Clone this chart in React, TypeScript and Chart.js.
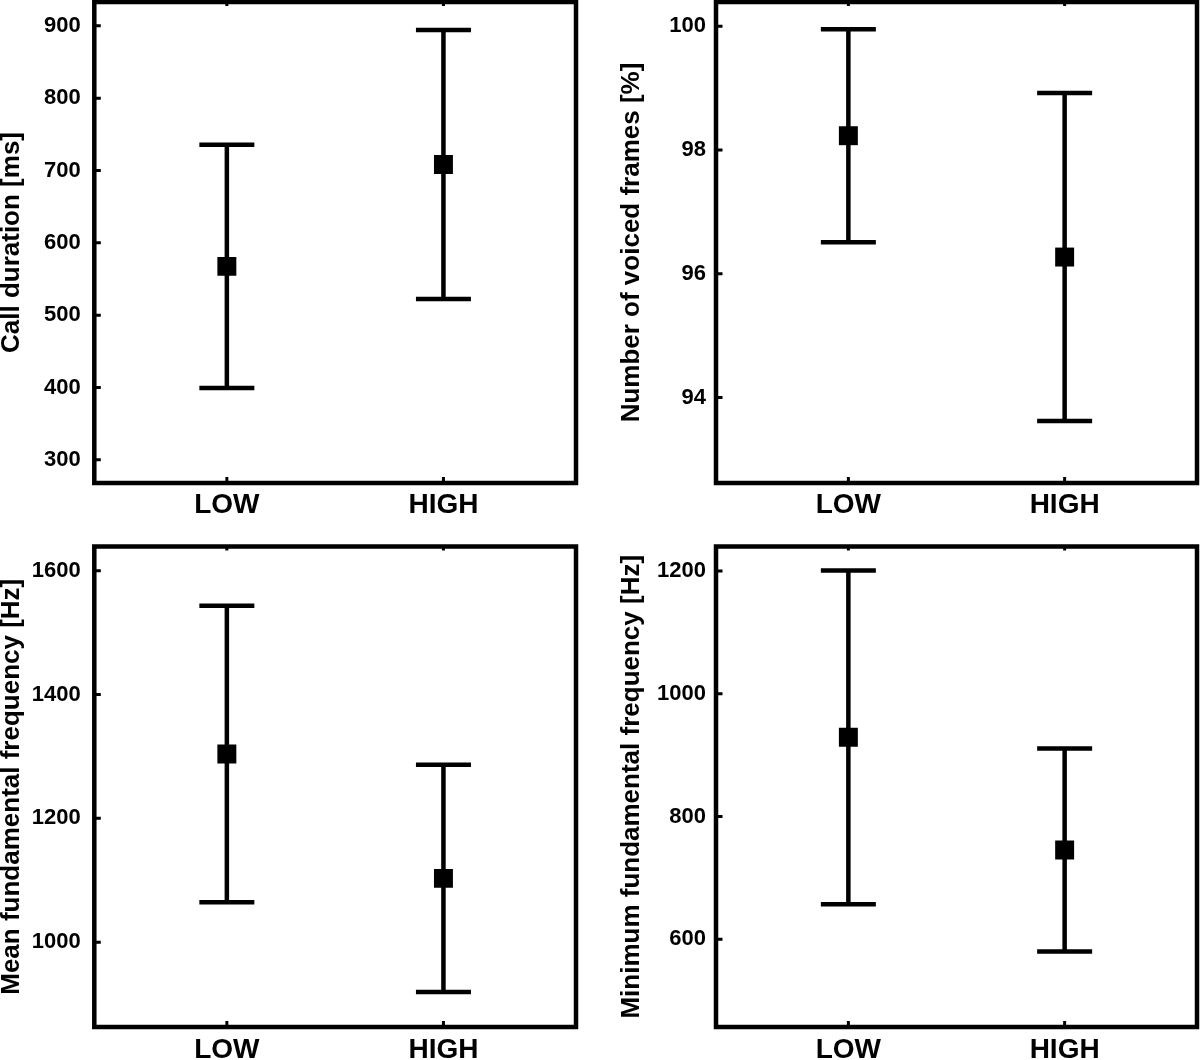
import React, { useEffect, useRef } from 'react';
import { Chart, registerables } from 'chart.js';

Chart.register(...registerables);

// ---- data ----
const categories = ['LOW', 'HIGH'];
const categoryPositions = [1, 2];
const xRange = [0.388, 2.612];

const callDurationMean = [567.5, 708.4];
const callDurationSD = [168, 186];
const callDurationTicks = [300, 400, 500, 600, 700, 800, 900];
const callDurationRange = [268, 933];

const voicedMean = [98.23, 96.27];
const voicedSD = [1.72, 2.65];
const voicedTicks = [94, 96, 98, 100];
const voicedRange = [92.62, 100.39];

const meanF0Mean = [1304, 1103];
const meanF0SD = [239.5, 183.5];
const meanF0Ticks = [1000, 1200, 1400, 1600];
const meanF0Range = [863, 1639];

const minF0Mean = [929, 745.5];
const minF0SD = [272, 165.5];
const minF0Ticks = [600, 800, 1000, 1200];
const minF0Range = [457, 1240];

const FONT = '"Liberation Sans", Arial, Helvetica, sans-serif';

const errorBarPlugin = {
  id: 'errorBars',
  beforeDatasetsDraw(chart: any, _args: any, opts: any) {
    const { ctx } = chart;
    const xs = chart.scales.x;
    const ys = chart.scales.y;
    const ds = chart.data.datasets[0];
    const sds: number[] = opts.sd || [];
    ctx.save();
    ctx.strokeStyle = '#000';
    ctx.lineWidth = 4.5;
    ctx.lineCap = 'butt';
    ds.data.forEach((p: any, i: number) => {
      const x = xs.getPixelForValue(p.x);
      const yHi = ys.getPixelForValue(p.y + sds[i]);
      const yLo = ys.getPixelForValue(p.y - sds[i]);
      const hw = 27.5;
      ctx.beginPath();
      ctx.moveTo(x, yHi);
      ctx.lineTo(x, yLo);
      ctx.moveTo(x - hw, yHi);
      ctx.lineTo(x + hw, yHi);
      ctx.moveTo(x - hw, yLo);
      ctx.lineTo(x + hw, yLo);
      ctx.stroke();
    });
    ctx.restore();
  },
};

const framePlugin = {
  id: 'frame',
  afterDraw(chart: any) {
    const { ctx, chartArea } = chart;
    const { left, right, top, bottom } = chartArea;
    const xs = chart.scales.x;
    const ys = chart.scales.y;
    ctx.save();
    ctx.strokeStyle = '#000';
    ctx.lineJoin = 'miter';
    ctx.lineWidth = 3;
    ctx.beginPath();
    ys.ticks.forEach((t: any) => {
      const y = ys.getPixelForValue(t.value);
      ctx.moveTo(left, y);
      ctx.lineTo(left + 6.5, y);
    });
    xs.ticks.forEach((t: any) => {
      const x = xs.getPixelForValue(t.value);
      ctx.moveTo(x, bottom);
      ctx.lineTo(x, bottom - 6);
      ctx.moveTo(x, top);
      ctx.lineTo(x, top + 4);
    });
    ctx.stroke();
    ctx.lineWidth = 4.5;
    ctx.strokeRect(left, top, right - left, bottom - top);
    ctx.restore();
  },
};

type PanelCfg = {
  mean: number[];
  sd: number[];
  ticks: number[];
  range: number[];
  title: string;
  padTop: number;
  padRight: number;
  xAxisHeight: number;
  yAxisWidth: number;
  yPad: number;
  xPad: number;
  titlePad: number;
  left: number;
  top: number;
};

function Panel({ cfg }: { cfg: PanelCfg }) {
  const ref = useRef<HTMLCanvasElement | null>(null);
  useEffect(() => {
    if (!ref.current) return;
    const chart = new Chart(ref.current, {
      type: 'scatter',
      data: {
        datasets: [
          {
            data: categoryPositions.map((x, i) => ({ x, y: cfg.mean[i] })),
            pointStyle: 'rect',
            pointRadius: 13.4,
            pointHoverRadius: 13.4,
            backgroundColor: '#000',
            borderColor: '#000',
            borderWidth: 0,
          },
        ],
      },
      options: {
        animation: false,
        responsive: false,
        devicePixelRatio: 1,
        events: [],
        layout: {
          autoPadding: false,
          padding: { left: 0, right: cfg.padRight, top: cfg.padTop, bottom: 0 },
        },
        plugins: {
          legend: { display: false },
          tooltip: { enabled: false },
          errorBars: { sd: cfg.sd },
        } as any,
        scales: {
          x: {
            type: 'linear',
            min: xRange[0],
            max: xRange[1],
            grid: { display: false, drawTicks: false },
            border: { display: false },
            afterBuildTicks: (s: any) => {
              s.ticks = categoryPositions.map((v) => ({ value: v }));
            },
            afterFit: (s: any) => {
              s.height = cfg.xAxisHeight;
              s.paddingLeft = 0;
              s.paddingRight = 0;
              s.paddingTop = 0;
              s.paddingBottom = 0;
            },
            ticks: {
              autoSkip: false,
              maxRotation: 0,
              minRotation: 0,
              padding: cfg.xPad,
              color: '#000',
              font: { family: FONT, size: 28, weight: 'bold' },
              callback: (v: any) => {
                const idx = categoryPositions.indexOf(Number(v));
                return idx >= 0 ? categories[idx] : '';
              },
            },
          },
          y: {
            type: 'linear',
            min: cfg.range[0],
            max: cfg.range[1],
            grid: { display: false, drawTicks: false },
            border: { display: false },
            afterBuildTicks: (s: any) => {
              s.ticks = cfg.ticks.map((v) => ({ value: v }));
            },
            afterFit: (s: any) => {
              s.width = cfg.yAxisWidth;
              s.paddingLeft = 0;
              s.paddingRight = 0;
              s.paddingTop = 0;
              s.paddingBottom = 0;
            },
            ticks: {
              autoSkip: false,
              padding: cfg.yPad,
              color: '#000',
              font: { family: FONT, size: 22, weight: 'bold' },
              callback: (v: any) => String(v),
            },
            title: {
              display: true,
              text: cfg.title,
              color: '#000',
              font: { family: FONT, size: 26, weight: 'bold', lineHeight: 1 },
              padding: { top: cfg.titlePad, bottom: 0 },
            },
          },
        },
      } as any,
      plugins: [errorBarPlugin, framePlugin],
    });
    return () => chart.destroy();
  }, []);
  return (
    <canvas
      ref={ref}
      width={600}
      height={530}
      style={{ position: 'absolute', left: cfg.left, top: cfg.top, width: 600, height: 530 }}
    />
  );
}

const leftCol = { padRight: 24, yAxisWidth: 94.3, yPad: 13.5, titlePad: -1, left: 0 };
const rightCol = { padRight: 3, yAxisWidth: 116, yPad: 10, titlePad: 19, left: 600 };
const topRow = { padTop: 2, xAxisHeight: 47, xPad: 5, top: 0 };
const bottomRow = { padTop: 16.5, xAxisHeight: 33, xPad: 6, top: 530 };

const panels: PanelCfg[] = [
  { ...leftCol, ...topRow, mean: callDurationMean, sd: callDurationSD, ticks: callDurationTicks, range: callDurationRange, title: 'Call duration [ms]' },
  { ...rightCol, ...topRow, mean: voicedMean, sd: voicedSD, ticks: voicedTicks, range: voicedRange, title: 'Number of voiced frames [%]' },
  { ...leftCol, ...bottomRow, mean: meanF0Mean, sd: meanF0SD, ticks: meanF0Ticks, range: meanF0Range, title: 'Mean fundamental frequency [Hz]' },
  { ...rightCol, ...bottomRow, mean: minF0Mean, sd: minF0SD, ticks: minF0Ticks, range: minF0Range, title: 'Minimum fundamental frequency [Hz]' },
];

export default function App() {
  return (
    <div style={{ position: 'absolute', left: 0, top: 0, width: 1200, height: 1060, background: '#fff', overflow: 'hidden' }}>
      {panels.map((p, i) => (
        <Panel key={i} cfg={p} />
      ))}
    </div>
  );
}
